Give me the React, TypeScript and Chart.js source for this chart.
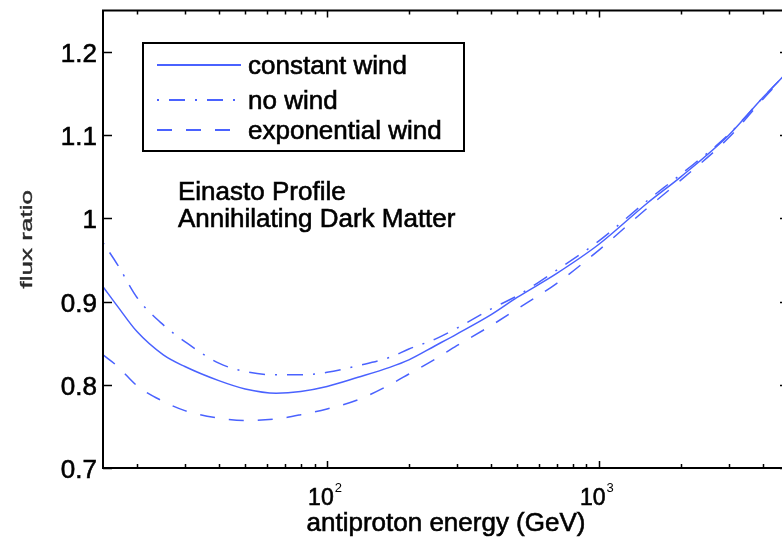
import React, { useEffect, useRef } from "react";
import { Chart, registerables } from "chart.js";

Chart.register(...registerables);

const energies = [15, 17, 20, 25, 30, 40, 50, 65, 80, 100, 130, 170, 200, 250, 300, 400, 500, 700, 1000, 1500, 2000, 3000, 4000, 5000];
const constantWind = [0.918, 0.894, 0.864, 0.836, 0.822, 0.805, 0.795, 0.790, 0.792, 0.798, 0.809, 0.821, 0.830, 0.847, 0.861, 0.884, 0.905, 0.934, 0.969, 1.018, 1.050, 1.100, 1.145, 1.178];
const noWind = [0.971, 0.944, 0.905, 0.872, 0.852, 0.826, 0.816, 0.812, 0.812, 0.815, 0.823, 0.833, 0.843, 0.855, 0.868, 0.891, 0.907, 0.938, 0.973, 1.021, 1.053, 1.101, 1.145, 1.178];
const exponentialWind = [0.836, 0.822, 0.799, 0.780, 0.769, 0.760, 0.757, 0.759, 0.764, 0.771, 0.782, 0.800, 0.813, 0.831, 0.847, 0.871, 0.891, 0.922, 0.962, 1.012, 1.046, 1.097, 1.143, 1.177];

const seriesLabels = ["constant wind", "no wind", "exponential wind"];
const yTicks = [0.7, 0.8, 0.9, 1.0, 1.1, 1.2];
const xMajorTicks = [100, 1000];
const xMajorExponents = ["2", "3"];
const xMinorTicks = [20, 30, 40, 50, 60, 70, 80, 90, 200, 300, 400, 500, 600, 700, 800, 900, 2000, 3000, 4000];
const annotationLines = ["Einasto Profile", "Annihilating Dark Matter"];
const xTitle = "antiproton energy (GeV)";
const yTitle = "flux ratio";

const FONT = "'Liberation Sans', Arial, Helvetica, sans-serif";
const LINE_COLOR = "#4a62ff";

const toPoints = (vals: number[]) => energies.map((e, i) => ({ x: e, y: vals[i] }));

function heavyText(ctx: CanvasRenderingContext2D, text: string, x: number, y: number, color = "#000") {
  ctx.save();
  ctx.fillStyle = color;
  ctx.strokeStyle = color;
  ctx.lineWidth = 0.6;
  ctx.setLineDash([]);
  ctx.fillText(text, x, y);
  ctx.strokeText(text, x, y);
  ctx.restore();
}

const decorPlugin = {
  id: "decor",
  afterDraw(chart: any) {
    const ctx = chart.ctx as CanvasRenderingContext2D;
    const { left, right, top, bottom } = chart.chartArea;
    const xs = chart.scales.x;
    const ys = chart.scales.y;
    ctx.save();
    ctx.strokeStyle = "#000";
    ctx.fillStyle = "#000";
    ctx.lineWidth = 1.5;
    // y ticks
    yTicks.forEach((v) => {
      const y = Math.round(ys.getPixelForValue(v)) + 0.5;
      ctx.strokeStyle = "#000";
      ctx.lineWidth = 1.5;
      ctx.beginPath();
      ctx.moveTo(left, y);
      ctx.lineTo(left + 9, y);
      ctx.moveTo(right, y);
      ctx.lineTo(right - 9, y);
      ctx.stroke();
      ctx.font = `26px ${FONT}`;
      ctx.textAlign = "right";
      ctx.textBaseline = "alphabetic";
      const lab = v === 1 ? "1" : v.toFixed(1);
      heavyText(ctx, lab, left - 6, y + 9.5);
    });
    // x ticks
    const drawXTick = (v: number, len: number) => {
      const x = Math.round(xs.getPixelForValue(v)) + 0.5;
      ctx.strokeStyle = "#000";
      ctx.lineWidth = 1.5;
      ctx.beginPath();
      ctx.moveTo(x, bottom);
      ctx.lineTo(x, bottom - len);
      ctx.moveTo(x, top);
      ctx.lineTo(x, top + len);
      ctx.stroke();
    };
    xMinorTicks.forEach((v) => drawXTick(v, 4));
    xMajorTicks.forEach((v, i) => {
      drawXTick(v, 7);
      const x = xs.getPixelForValue(v);
      ctx.font = `23px ${FONT}`;
      const w1 = ctx.measureText("10").width;
      ctx.font = `13px ${FONT}`;
      const w2 = ctx.measureText(xMajorExponents[i]).width;
      const total = w1 + 1 + w2;
      const sx = x - 2 - total / 2;
      ctx.textAlign = "left";
      ctx.textBaseline = "alphabetic";
      ctx.font = `23px ${FONT}`;
      heavyText(ctx, "10", sx, 505);
      ctx.font = `13px ${FONT}`;
      ctx.fillStyle = "#000";
      ctx.fillText(xMajorExponents[i], sx + w1 + 1, 492);
    });
    // box
    ctx.strokeStyle = "#000";
    ctx.lineWidth = 2;
    ctx.strokeRect(left, top, right - left, bottom - top);
    // x title
    ctx.font = `26px ${FONT}`;
    ctx.textAlign = "center";
    heavyText(ctx, xTitle, (left + right) / 2, 531);
    // y title (compressed)
    ctx.save();
    ctx.translate(32, (top + bottom) / 2);
    ctx.rotate(-Math.PI / 2);
    ctx.scale(1, 0.64);
    ctx.textAlign = "center";
    heavyText(ctx, yTitle, 0, 0, "#2a2a2a");
    ctx.restore();
    // annotation
    ctx.textAlign = "left";
    ctx.font = `26px ${FONT}`;
    heavyText(ctx, annotationLines[0], 178, 200);
    heavyText(ctx, annotationLines[1], 178, 227);
    // legend
    ctx.fillStyle = "#fff";
    ctx.fillRect(143, 43, 321, 108);
    ctx.lineWidth = 2;
    ctx.strokeStyle = "#000";
    ctx.strokeRect(143, 43, 321, 108);
    const rows = [65, 100, 130];
    chart.data.datasets.forEach((ds: any, i: number) => {
      const y = rows[i];
      ctx.save();
      ctx.strokeStyle = ds.borderColor;
      ctx.lineWidth = 2;
      ctx.setLineDash(ds.borderDash || []);
      ctx.beginPath();
      ctx.moveTo(157, y);
      ctx.lineTo(241, y);
      ctx.stroke();
      ctx.restore();
      ctx.font = `26px ${FONT}`;
      ctx.textAlign = "left";
      heavyText(ctx, ds.label, 248, y + 8.5);
    });
    ctx.restore();
  },
};

export default function App() {
  const ref = useRef<HTMLCanvasElement>(null);
  useEffect(() => {
    if (!ref.current) return;
    const chart = new Chart(ref.current, {
      type: "line",
      data: {
        datasets: [
          { label: seriesLabels[0], data: toPoints(constantWind), borderColor: LINE_COLOR, borderWidth: 1.5, borderDash: [], pointRadius: 0, cubicInterpolationMode: "monotone", fill: false },
          { label: seriesLabels[1], data: toPoints(noWind), borderColor: LINE_COLOR, borderWidth: 1.5, borderDash: [2, 10, 16, 10], pointRadius: 0, cubicInterpolationMode: "monotone", fill: false },
          { label: seriesLabels[2], data: toPoints(exponentialWind), borderColor: LINE_COLOR, borderWidth: 1.5, borderDash: [15, 14], pointRadius: 0, cubicInterpolationMode: "monotone", fill: false },
        ],
      } as any,
      options: {
        responsive: false,
        animation: false,
        devicePixelRatio: 1,
        layout: { padding: { left: 0, top: 10.5, right: 11, bottom: 0 } },
        plugins: { legend: { display: false }, tooltip: { enabled: false } },
        scales: {
          x: {
            type: "logarithmic",
            min: 15,
            max: 5000,
            grid: { display: false },
            border: { display: false },
            ticks: { display: false },
            afterFit: (s: any) => { s.height = 76; },
          },
          y: {
            min: 0.7,
            max: 1.25,
            grid: { display: false },
            border: { display: false },
            ticks: { display: false },
            afterFit: (s: any) => { s.width = 103; },
          },
        },
      } as any,
      plugins: [decorPlugin],
    });
    return () => chart.destroy();
  }, []);
  return (
    <div style={{ position: "fixed", left: 0, top: 0, width: 782, height: 544, overflow: "hidden", background: "#fff" }}>
      <canvas ref={ref} width={800} height={544} style={{ display: "block", width: 800, height: 544 }} />
    </div>
  );
}
